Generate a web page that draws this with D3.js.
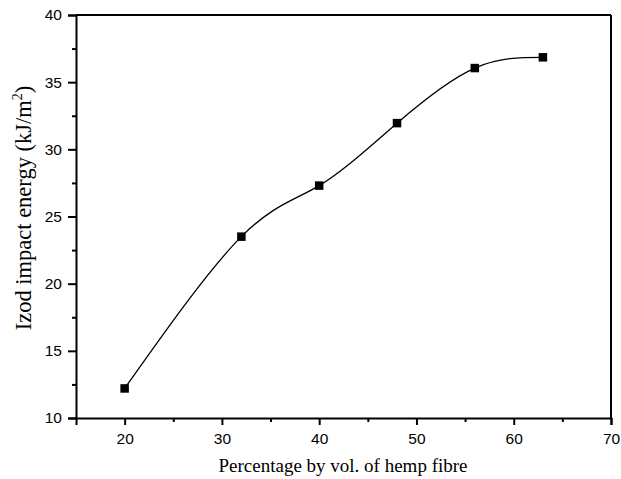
<!DOCTYPE html>
<html>
<head>
<meta charset="utf-8">
<script src="https://cdn.jsdelivr.net/npm/d3@7"></script>
<style>
  body { margin: 0; background: #fff; }
  svg { display: block; }
</style>
</head>
<body>
<script>
const fibre = [20, 32, 40, 48, 56, 63];
const energy = [12.2, 23.5, 27.3, 31.95, 36.05, 36.85];
const xTicks = [20, 30, 40, 50, 60, 70];
const yTicks = [10, 15, 20, 25, 30, 35, 40];

const W = 621, H = 479;
const mLeft = 76, mRight = 611, mTop = 15, mBottom = 418;

const svg = d3.select("body").append("svg").attr("width", W).attr("height", H);

const x = d3.scaleLinear().domain([15, 70]).range([mLeft, mRight]);
const y = d3.scaleLinear().domain([10, 40]).range([mBottom, mTop]);

// minor ticks
const xMinor = d3.range(25, 70, 10);
const yMinor = d3.range(12.5, 40, 5);

svg.append("g").attr("transform", `translate(0,${mBottom})`)
  .call(d3.axisBottom(x).tickValues(xTicks).tickSize(7).tickPadding(8).tickFormat(d3.format("d")));
svg.append("g").attr("transform", `translate(0,${mBottom})`)
  .call(d3.axisBottom(x).tickValues(xMinor).tickSize(4).tickFormat(""))
  .call(g => g.select(".domain").remove());

svg.append("g").attr("transform", `translate(${mLeft},0)`)
  .call(d3.axisLeft(y).tickValues(yTicks).tickSize(8).tickPadding(6).tickFormat(d3.format("d")));
svg.append("g").attr("transform", `translate(${mLeft},0)`)
  .call(d3.axisLeft(y).tickValues(yMinor).tickSize(4).tickFormat(""))
  .call(g => g.select(".domain").remove());

svg.selectAll(".tick line").attr("stroke", "#000").attr("stroke-width", 2);
svg.selectAll(".domain").attr("stroke", "#000").attr("stroke-width", 2);
svg.selectAll(".tick text")
  .attr("font-family", "'Liberation Sans', Arial, sans-serif")
  .attr("font-size", 15.5).attr("fill", "#000");

// top and right frame lines
svg.append("line").attr("x1", mLeft).attr("x2", mRight).attr("y1", mTop).attr("y2", mTop)
  .attr("stroke", "#000").attr("stroke-width", 2);
svg.append("line").attr("x1", mRight).attr("x2", mRight).attr("y1", mTop).attr("y2", mBottom)
  .attr("stroke", "#000").attr("stroke-width", 2);

const pts = fibre.map((f, i) => [f, energy[i]]);

svg.append("path")
  .datum(pts)
  .attr("fill", "none")
  .attr("stroke", "#000")
  .attr("stroke-width", 1.3)
  .attr("d", d3.line().x(d => x(d[0])).y(d => y(d[1])).curve(d3.curveNatural));

svg.selectAll("rect.pt").data(pts).enter().append("rect")
  .attr("class", "pt")
  .attr("x", d => x(d[0]) - 4.25)
  .attr("y", d => y(d[1]) - 4.25)
  .attr("width", 8.5).attr("height", 8.5)
  .attr("fill", "#000");

// axis titles
svg.append("text")
  .attr("x", 343)
  .attr("y", 472)
  .attr("text-anchor", "middle")
  .attr("font-family", "'Liberation Serif', 'Times New Roman', serif")
  .attr("font-size", 19)
  .attr("fill", "#000")
  .text("Percentage by vol. of hemp fibre");

const yt = svg.append("text")
  .attr("transform", `translate(31,208) rotate(-90)`)
  .attr("text-anchor", "middle")
  .attr("font-family", "'Liberation Serif', 'Times New Roman', serif")
  .attr("font-size", 22.5)
  .attr("fill", "#000");
yt.append("tspan").text("Izod impact energy (kJ/m");
yt.append("tspan").attr("dy", -9).attr("font-size", 14).text("2");
yt.append("tspan").attr("dy", 9).text(")");
</script>
</body>
</html>
